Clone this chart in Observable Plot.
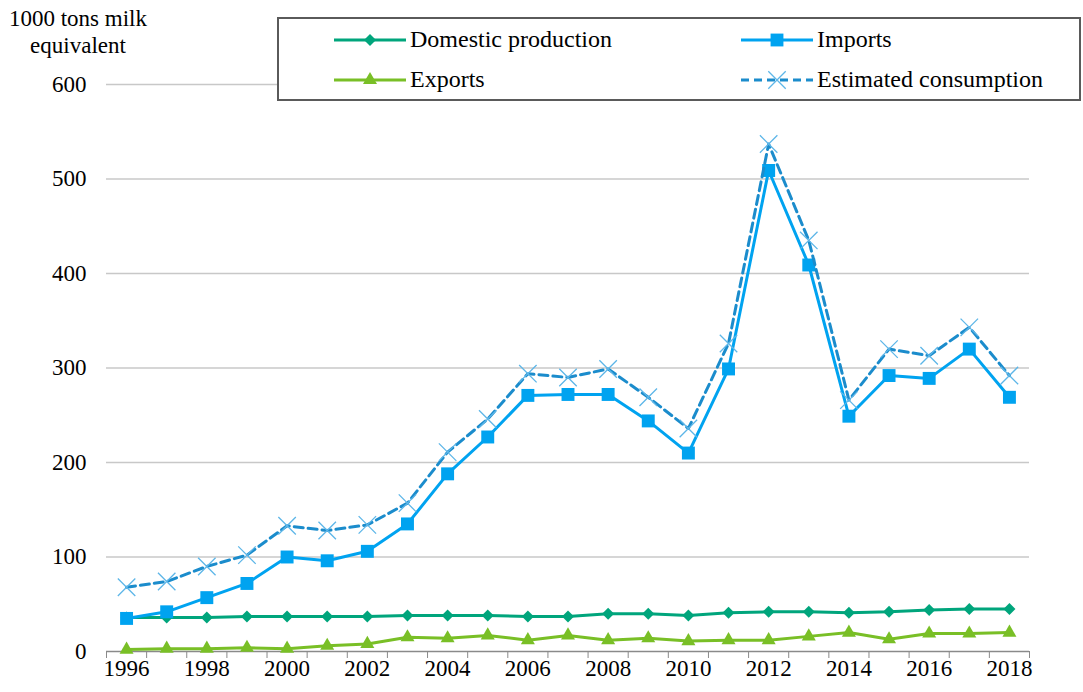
<!DOCTYPE html>
<html><head><meta charset="utf-8">
<script src="https://cdn.jsdelivr.net/npm/d3@7"></script>
<script src="https://cdn.jsdelivr.net/npm/@observablehq/plot@0.6"></script>
<style>
body{margin:0;background:#fff;font-family:"Liberation Serif","Times New Roman",serif;}
#wrap{position:relative;width:1083px;height:692px;overflow:hidden;}
#ytitle{position:absolute;left:6px;top:5px;width:144px;text-align:center;font-size:23px;line-height:27px;color:#000;font-family:"Liberation Serif",serif;}
#legend{position:absolute;left:277px;top:17px;width:804px;height:84px;border:2px solid #5a5a5a;box-sizing:border-box;background:#fff;}
.item{position:absolute;display:flex;align-items:center;font-size:24px;color:#000;white-space:nowrap;font-family:"Liberation Serif",serif;}
.item svg{margin-right:4px;}
</style>
</head><body>
<div id="wrap">
<div id="chart"></div>
<div id="ytitle">1000 tons milk<br>equivalent</div>
<div id="legend"></div>
</div>
<script>
const years = d3.range(1996, 2019);
const domestic = [36,36,36,37,37,37,37,38,38,38,37,37,40,40,38,41,42,42,41,42,44,45,45];
const imports = [35,42,57,72,100,96,106,135,188,227,271,272,272,244,210,299,509,409,249,292,289,320,269];
const exportsV = [2,3,3,4,3,6,8,15,14,17,12,17,12,14,11,12,12,16,20,13,19,19,20];
const consumption = [68,74,90,102,133,128,134,157,211,246,294,290,299,269,236,326,537,435,266,320,313,343,292];
const seriesNames = ["Domestic production","Imports","Exports","Estimated consumption"];
const yTicks = [0,100,200,300,400,500,600];
const xLabels = d3.range(1996, 2019, 2);

const colors = {
  dom: "#00a57c",
  imp: "#00a3f0",
  exp: "#79bf26",
  con: "#1b8ccc",
  conMark: "#5db6e8"
};

const rowsOf = (vals) => years.map((y, i) => ({year: y, value: vals[i]}));
const dDom = rowsOf(domestic), dImp = rowsOf(imports), dExp = rowsOf(exportsV), dCon = rowsOf(consumption);
const bounds = [...years.map(y => y - 0.5), years[years.length - 1] + 0.5];

const chart = Plot.plot({
  width: 1083, height: 692,
  marginTop: 84, marginBottom: 41, marginLeft: 106, marginRight: 54,
  style: {fontFamily: "'Liberation Serif', serif", fontSize: "23px", color: "#000", background: "#fff", overflow: "visible"},
  x: {domain: [bounds[0], bounds[bounds.length - 1]]},
  y: {domain: [0, 600]},
  marks: [
    Plot.gridY(yTicks.filter(t => t > 0), {stroke: "#c8c8c8", strokeOpacity: 1, strokeWidth: 1.3}),
    Plot.axisY({ticks: yTicks, tickSize: 0, tickPadding: 20, label: null, fontSize: 23}),
    Plot.ruleY([0], {stroke: "#8a8a8a", strokeWidth: 1.5}),
    Plot.axisX({ticks: bounds, tickSize: 7, tickFormat: () => "", stroke: "#8a8a8a", label: null}),
    Plot.axisX({ticks: xLabels, tickSize: 0, tickPadding: 8, tickFormat: d => String(d), label: null, fontSize: 23}),
    Plot.line(dDom, {x: "year", y: "value", stroke: colors.dom, strokeWidth: 3}),
    Plot.dot(dDom, {x: "year", y: "value", symbol: "diamond2", r: 5.4, fill: colors.dom, stroke: "none"}),
    Plot.line(dImp, {x: "year", y: "value", stroke: colors.imp, strokeWidth: 3}),
    Plot.dot(dImp, {x: "year", y: "value", symbol: "square", r: 7.3, fill: colors.imp, stroke: "none"}),
    Plot.line(dExp, {x: "year", y: "value", stroke: colors.exp, strokeWidth: 3}),
    Plot.dot(dExp, {x: "year", y: "value", symbol: "triangle", r: 5.2, fill: colors.exp, stroke: "none"}),
    Plot.line(dCon, {x: "year", y: "value", stroke: colors.con, strokeWidth: 3, strokeDasharray: "9,5"}),
    Plot.dot(dCon, {x: "year", y: "value", symbol: "times", r: 8, fill: "none", stroke: colors.conMark, strokeWidth: 1.3})
  ]
});
document.getElementById("chart").appendChild(chart);

// Legend
const legendDefs = [
  {name: seriesNames[0], color: colors.dom, sym: d3.symbolDiamond2, size: 92, fill: true, dash: null, left: 55, top: 10},
  {name: seriesNames[1], color: colors.imp, sym: d3.symbolSquare, size: 165, fill: true, dash: null, left: 462, top: 10},
  {name: seriesNames[2], color: colors.exp, sym: d3.symbolTriangle, size: 85, fill: true, dash: null, left: 55, top: 50},
  {name: seriesNames[3], color: colors.con, sym: d3.symbolTimes, size: 200, fill: false, dash: "8,5", left: 462, top: 50, markColor: colors.conMark}
];
const legend = document.getElementById("legend");
for (const d of legendDefs) {
  const div = document.createElement("div");
  div.className = "item";
  div.style.left = d.left + "px";
  div.style.top = (d.top - 3) + "px";
  const w = 72, h = 22;
  const path = d3.symbol(d.sym, d.size)();
  div.innerHTML = `<svg width="${w}" height="${h}" viewBox="0 0 ${w} ${h}">
    <line x1="0" x2="${w}" y1="${h/2}" y2="${h/2}" stroke="${d.color}" stroke-width="3" ${d.dash ? `stroke-dasharray="${d.dash}"` : ""}/>
    <path transform="translate(${w/2},${h/2})" d="${path}" ${d.fill ? `fill="${d.color}"` : `fill="none" stroke="${d.markColor}" stroke-width="1.3"`}/>
  </svg><span>${d.name}</span>`;
  legend.appendChild(div);
}
</script>
</body></html>
